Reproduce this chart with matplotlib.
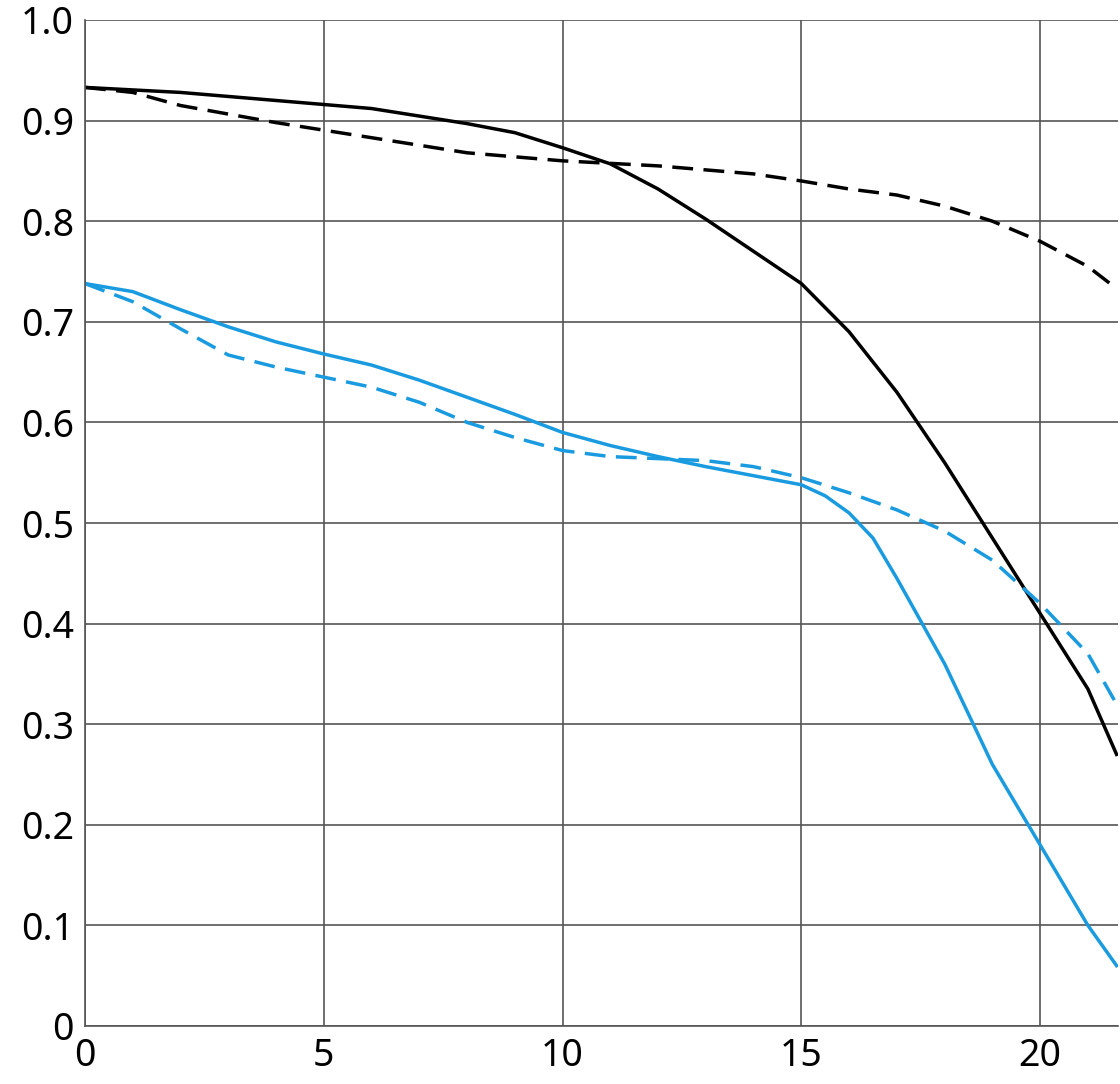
import matplotlib
matplotlib.use("Agg")
import matplotlib.pyplot as plt

x_bs = [0,2,4,6,8,9,10,11,12,13,14,15,16,17,18,19,20,21,21.6]
y_bs = [0.933,0.928,0.92,0.912,0.897,0.888,0.873,0.857,0.832,0.802,0.77,0.738,0.69,0.63,0.56,0.485,0.41,0.335,0.27]
x_bd = [0,1,2,4,6,8,10,12,14,15,16,17,18,19,20,21,21.6]
y_bd = [0.933,0.928,0.915,0.898,0.883,0.868,0.86,0.855,0.847,0.84,0.832,0.826,0.815,0.8,0.78,0.755,0.733]
x_ls = [0,1,2,3,4,5,6,7,8,9,10,11,12,13,14,15,15.5,16,16.5,17,18,19,20,21,21.6]
y_ls = [0.738,0.73,0.712,0.695,0.68,0.668,0.657,0.642,0.625,0.608,0.59,0.577,0.566,0.556,0.547,0.538,0.527,0.51,0.485,0.445,0.36,0.26,0.18,0.1,0.06]
x_ld = [0,1,2,3,4,5,6,7,8,9,10,11,12,13,14,15,16,17,18,19,20,21,21.6]
y_ld = [0.738,0.72,0.693,0.667,0.655,0.645,0.635,0.62,0.6,0.585,0.572,0.566,0.564,0.562,0.556,0.545,0.53,0.513,0.492,0.463,0.42,0.37,0.32]

xticks = [0,5,10,15,20]
yticks = [0,0.1,0.2,0.3,0.4,0.5,0.6,0.7,0.8,0.9,1.0]
ylabels = ["0","0.1","0.2","0.3","0.4","0.5","0.6","0.7","0.8","0.9","1.0"]

plt.rcParams['font.family'] = ['Noto Sans', 'DejaVu Sans']
fig = plt.figure(figsize=(11.2,10.84), dpi=100)
ax = fig.add_axes([85/1120, 1-1026/1084, 1033/1120, 1006/1084])
blue = "#1a9be0"
ax.plot(x_bs, y_bs, color="black", lw=2.5)
ax.plot(x_bd, y_bd, color="black", lw=2.5, ls=(0,(6,3)))
ax.plot(x_ls, y_ls, color=blue, lw=2.5)
ax.plot(x_ld, y_ld, color=blue, lw=2.5, ls=(0,(6,3)))
ax.set_xlim(0,21.63)
ax.set_ylim(0,1)
ax.set_xticks(xticks)
ax.set_yticks(yticks)
ax.set_yticklabels(ylabels)
ax.grid(True, color="#555555", lw=1.2)
ax.set_axisbelow(True)
for s in ax.spines.values():
    s.set_color("#555555"); s.set_linewidth(1.2)
ax.spines['top'].set_visible(False)
ax.spines['right'].set_visible(False)
ax.tick_params(length=0, labelsize=27, pad=8)
fig.savefig("out.png", dpi=100)
